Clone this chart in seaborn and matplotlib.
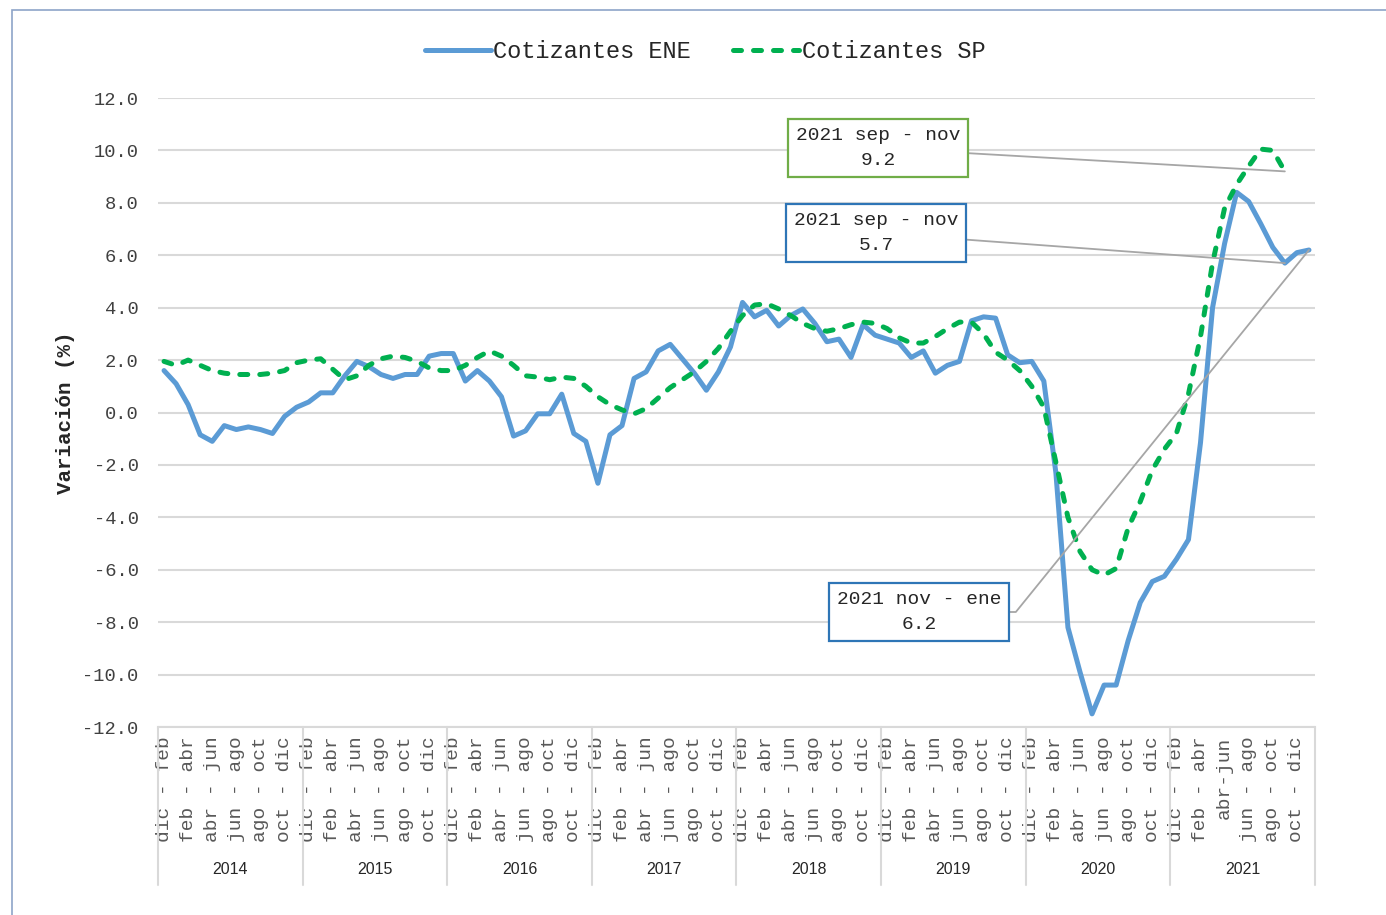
import numpy as np
import pandas as pd
import matplotlib
matplotlib.use("Agg")
import matplotlib.pyplot as plt
import matplotlib.transforms as mtransforms
from matplotlib.patches import Rectangle
from matplotlib.ticker import FormatStrFormatter
import seaborn as sns

years = ["2014", "2015", "2016", "2017", "2018", "2019", "2020", "2021"]
periods = ["dic - feb", "ene - mar", "feb - abr", "mar - may", "abr - jun", "may - jul",
           "jun - ago", "jul - sep", "ago - oct", "sep - nov", "oct - dic", "nov - ene"]
periods_2021 = ["dic - feb", "ene - mar", "feb - abr", "mar - may", "abr-jun", "may - jul",
                "jun - ago", "jul - sep", "ago - oct", "sep - nov", "oct - dic", "nov - ene"]

# variacion anual cotizantes, ENE (encuesta) y SP (superintendencia)
ene = [1.6, 1.1, 0.3, -0.85, -1.1, -0.5, -0.65, -0.55, -0.65, -0.8, -0.15, 0.2,
       0.4, 0.75, 0.75, 1.4, 1.95, 1.75, 1.45, 1.3, 1.45, 1.45, 2.15, 2.25,
       2.25, 1.2, 1.6, 1.2, 0.6, -0.9, -0.7, -0.05, -0.05, 0.7, -0.8, -1.1,
       -2.7, -0.85, -0.5, 1.3, 1.55, 2.35, 2.6, 2.05, 1.5, 0.85, 1.55, 2.5,
       4.2, 3.65, 3.9, 3.3, 3.7, 3.95, 3.4, 2.7, 2.8, 2.1, 3.35, 2.95,
       2.8, 2.65, 2.1, 2.35, 1.5, 1.8, 1.95, 3.5, 3.65, 3.6, 2.2, 1.9,
       1.95, 1.2, -2.3, -8.2, -9.9, -11.5, -10.4, -10.4, -8.7, -7.25, -6.45, -6.25,
       -5.6, -4.85, -1.15, 4.0, 6.45, 8.4, 8.05, 7.2, 6.3, 5.7, 6.1, 6.2]
sp = [1.95, 1.8, 2.0, 1.8, 1.6, 1.5, 1.45, 1.45, 1.45, 1.5, 1.6, 1.9,
      2.0, 2.05, 1.65, 1.25, 1.4, 1.8, 2.05, 2.15, 2.1, 1.95, 1.7, 1.6,
      1.6, 1.8, 2.1, 2.35, 2.15, 1.8, 1.4, 1.35, 1.25, 1.35, 1.3, 1.0,
      0.6, 0.3, 0.1, -0.05, 0.15, 0.55, 0.95, 1.25, 1.55, 1.95, 2.45, 3.1,
      3.7, 4.1, 4.15, 3.95, 3.7, 3.4, 3.2, 3.1, 3.2, 3.35, 3.45, 3.4,
      3.2, 2.85, 2.65, 2.65, 2.9, 3.2, 3.45, 3.45, 3.0, 2.3, 2.0, 1.6,
      1.0, 0.2, -1.9, -4.0, -5.3, -6.0, -6.2, -5.95, -4.4, -3.4, -2.2, -1.4,
      -0.8, 0.7, 2.9, 5.7, 7.8, 8.7, 9.4, 10.05, 10.0, 9.2]

labels = []
for y in years:
    labels += periods_2021 if y == "2021" else periods

df_ene = pd.DataFrame({"pos": range(len(ene)), "valor": ene})
df_sp = pd.DataFrame({"pos": range(len(sp)), "valor": sp})

sns.set_style("white")
plt.rcParams["font.family"] = ["Liberation Mono", "DejaVu Sans Mono"]

blue = "#5B9BD5"
green = "#00B050"
grid_c = "#D9D9D9"
text_c = "#404040"

fig = plt.figure(figsize=(13.86, 9.15), dpi=100)
ax = fig.add_axes([158 / 1386, 1 - 727 / 915, (1315 - 158) / 1386, (727 - 98) / 915])

sns.lineplot(data=df_ene, x="pos", y="valor", color=blue, lw=3.6,
             label="Cotizantes ENE", ax=ax, solid_capstyle="round")
sns.lineplot(data=df_sp, x="pos", y="valor", color=green, lw=3.6,
             linestyle=(0, (1.6, 2.4)), dash_capstyle="round",
             label="Cotizantes SP", ax=ax)

ax.set_xlim(-0.5, len(labels) - 0.5)
ax.set_ylim(-12, 12)
ax.set_yticks(np.arange(-12, 13, 2))
ax.yaxis.set_major_formatter(FormatStrFormatter("%.1f"))
ax.grid(axis="y", color=grid_c, lw=1.5)
ax.grid(axis="x", visible=False)
ax.set_axisbelow(True)
for s in ["top", "right", "left"]:
    ax.spines[s].set_visible(False)
ax.spines["bottom"].set_color(grid_c)
ax.spines["bottom"].set_linewidth(1.5)

ax.set_xticks(range(0, len(labels), 2))
ax.set_xticklabels(labels[::2], rotation=90, va="top", fontsize=14, color="#595959")
ax.tick_params(axis="x", length=0, pad=7)
ax.tick_params(axis="y", length=0, pad=14, labelsize=13.5, labelcolor=text_c)
ax.set_xlabel("")
ax.set_ylabel("Variación (%)", fontsize=15, fontweight="bold", color="#262626")
ax.yaxis.set_label_coords(-0.072, 0.5)

# separadores de año y etiquetas
trans = mtransforms.blended_transform_factory(ax.transData, ax.transAxes)
for k in range(len(years) + 1):
    b = 12 * k - 0.5
    ax.plot([b, b], [0, -0.251], transform=trans, clip_on=False, color=grid_c, lw=1.5)
for k, y in enumerate(years):
    ax.text(12 * k + 5.5, -0.2273, y, transform=trans, ha="center", va="center",
            fontsize=11.5, family="Liberation Sans", color="#262626")

# anotaciones
ann = dict(textcoords="figure pixels", ha="center", va="center", ma="center", fontsize=14,
           color="#262626", linespacing=1.65)
ax.annotate(f"2021 sep - nov\n{sp[93]:.1f}", xy=(93, sp[93]), xytext=(878, 767),
            bbox=dict(boxstyle="square,pad=0.42", fc="white", ec="#70AD47", lw=1.6),
            arrowprops=dict(arrowstyle="-", color="#A6A6A6", lw=1.3, shrinkA=0, shrinkB=0),
            **ann)
ax.annotate(f"2021 sep - nov\n{ene[93]:.1f}", xy=(93, ene[93]), xytext=(876, 682),
            bbox=dict(boxstyle="square,pad=0.42", fc="white", ec="#2E75B6", lw=1.6),
            arrowprops=dict(arrowstyle="-", color="#A6A6A6", lw=1.3, shrinkA=0, shrinkB=0),
            **ann)
ax.annotate(f"2021 nov - ene\n{ene[95]:.1f}", xy=(95, ene[95]), xytext=(919, 303),
            bbox=dict(boxstyle="square,pad=0.42", fc="white", ec="#2E75B6", lw=1.6),
            arrowprops=dict(arrowstyle="-", color="#A6A6A6", lw=1.3, shrinkA=0, shrinkB=0,
                            connectionstyle="angle,angleA=0,angleB=51,rad=0"),
            **ann)

ax.legend(loc="center", bbox_to_anchor=(705 / 1386, 1 - 52 / 915), bbox_transform=fig.transFigure,
          ncol=2, frameon=False, fontsize=17, handlelength=2.8, handletextpad=0.1,
          columnspacing=1.8, labelcolor="#262626")

fig.add_artist(Rectangle((12 / 1386, -0.05), 1.0, 905 / 915 + 0.05, transform=fig.transFigure,
                         fill=False, ec="#8EA4C8", lw=1.2))

fig.savefig("out.png", dpi=100)
